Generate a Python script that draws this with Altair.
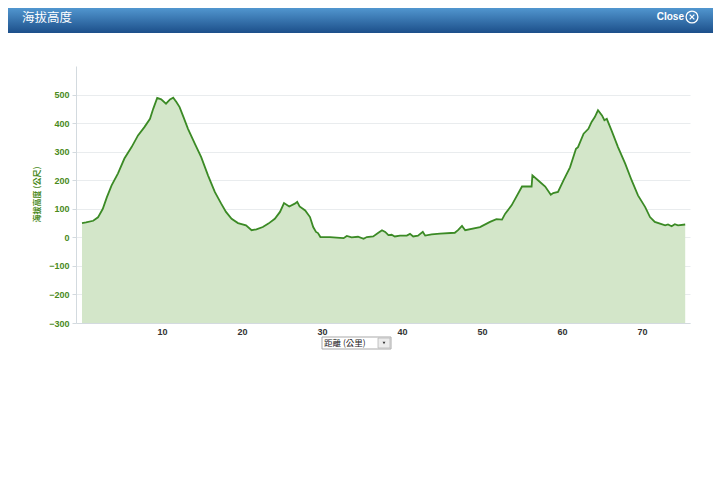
import altair as alt
import pandas as pd

km = [0, 0.5, 1.4, 2.0, 2.6, 3.1, 3.7, 4.5, 5.3, 6.2,
      7.0, 7.8, 8.5, 8.9, 9.4, 9.9, 10.5, 11.0, 11.4, 11.8,
      12.2, 12.7, 13.25, 14.1, 14.9, 15.75, 16.6, 17.4, 18.0, 18.7,
      19.5, 20.5, 21.2, 21.8, 22.6, 23.3, 24.1, 24.75, 25.25, 25.9,
      26.6, 26.9, 27.2, 27.9, 28.5, 28.9, 29.25, 29.5, 29.8, 31.0,
      32.25, 32.7, 33.1, 33.7, 34.5, 35.2, 35.6, 36.4, 37.0, 37.5,
      37.9, 38.3, 38.7, 39.1, 39.75, 40.6, 41.0, 41.4, 42.0, 42.6,
      42.9, 43.7, 44.75, 46.6, 47.0, 47.5, 47.9, 49.75, 51.0, 51.8,
      52.5, 52.9, 53.7, 55.0, 56.2, 56.3, 57.0, 57.9, 58.6, 58.9,
      59.5, 60.2, 61.0, 61.75, 62.0, 62.7, 63.3, 63.7, 64.1, 64.5,
      65.0, 65.3, 65.6, 66.2, 67.0, 67.9, 68.7, 69.5, 70.4, 71.0,
      71.6, 72.25, 72.9, 73.25, 73.7, 74.1, 74.5, 75.4]
elev = [50, 52, 58, 70, 100, 140, 182, 224, 276, 316,
        357, 386, 415, 450, 488, 483, 468, 483, 489, 474,
        456, 420, 380, 328, 281, 217, 159, 118, 89, 65,
        50, 42, 25, 28, 36, 48, 65, 89, 120, 108,
        118, 124, 108, 94, 71, 36, 19, 15, 1, 1,
        -2, -3, 5, 0, 2, -5, 1, 3, 15, 25,
        19, 8, 9, 3, 6, 6, 12, 3, 6, 19,
        6, 10, 13, 16, 25, 40, 25, 36, 54, 64,
        62, 83, 112, 178, 178, 217, 200, 178, 149, 155,
        159, 200, 245, 310, 316, 363, 380, 404, 421, 445,
        427, 410, 415, 374, 316, 258, 200, 147, 106, 71,
        54, 48, 42, 45, 39, 46, 42, 45]

x_ticks = [10, 20, 30, 40, 50, 60, 70]
y_ticks = [-300, -200, -100, 0, 100, 200, 300, 400, 500]

header_title = "海拔高度"
close_label = "Close"
y_title = "海拔高度 (公尺)"
x_selector = "距離 (公里)"

df = pd.DataFrame({"km": km, "elev": elev})
one = pd.DataFrame({"a": [0]})

GREEN = "#4a8a1c"
CJK = "Noto Sans CJK TC"

xs = alt.Scale(domain=[-0.75, 76], nice=False, zero=False)
ys = alt.Scale(domain=[-300, 600], nice=False, zero=False)

xax = alt.Axis(values=x_ticks, tickCount=30, grid=False, ticks=False, domainColor="#d3dadf",
               labelFont="Liberation Sans", labelFontWeight="bold", labelFontSize=9,
               labelColor="#333333", labelPadding=4, labelOverlap=False, title=None)
yax = alt.Axis(values=y_ticks, tickCount=30, grid=True, gridColor="#e9ecee",
               domainColor="#d3dadf", tickColor="#d3dadf", tickSize=4, labelPadding=3,
               labelOverlap=False,
               labelFont="Liberation Sans", labelFontWeight="bold", labelFontSize=9,
               labelColor=GREEN, title=y_title, titleFont=CJK, titleFontSize=8,
               titleFontWeight="bold", titleColor=GREEN, titleX=-39, titleY=128,
               titleAngle=-90, titleAlign="center", titleBaseline="middle")

area = alt.Chart(df).mark_area(color="#d3e6c9", opacity=1).encode(
    x=alt.X("km:Q", scale=xs, axis=xax),
    y=alt.Y("elev:Q", scale=ys, axis=yax),
    y2=alt.datum(-300),
)
line = alt.Chart(df).mark_line(color="#3b8a25", strokeWidth=1.8).encode(
    x=alt.X("km:Q", scale=xs),
    y=alt.Y("elev:Q", scale=ys),
)

grad = alt.Gradient(gradient="linear", x1=0, x2=0, y1=0, y2=1,
                    stops=[alt.GradientStop(color="#5196cf", offset=0),
                           alt.GradientStop(color="#1c4f8a", offset=1)])
header = alt.Chart(one).mark_rect(fill=grad).encode(
    x=alt.value(-68), x2=alt.value(700), y=alt.value(-58), y2=alt.value(-33))
title_txt = alt.Chart(one).mark_text(text=header_title, font=CJK, fontSize=12.5,
                                     color="white", align="left", baseline="middle").encode(
    x=alt.value(-54), y=alt.value(-48))
close_txt = alt.Chart(one).mark_text(text=close_label, font="Liberation Sans", fontSize=10,
                                     fontWeight="bold", color="white", align="right",
                                     baseline="middle").encode(
    x=alt.value(608), y=alt.value(-49))
close_circle = alt.Chart(one).mark_point(shape="circle", size=140, filled=False,
                                         color="white", strokeWidth=1.3, opacity=1).encode(
    x=alt.value(616), y=alt.value(-49))
close_x = alt.Chart(one).mark_point(shape="M-1,-1L1,1M1,-1L-1,1", size=22, filled=False,
                                    color="white", strokeWidth=1.3, opacity=1).encode(
    x=alt.value(616), y=alt.value(-49))

sel_box = alt.Chart(one).mark_rect(fill="white", stroke="#a9a9a9", strokeWidth=1).encode(
    x=alt.value(246), x2=alt.value(315), y=alt.value(271), y2=alt.value(283))
sel_btn = alt.Chart(one).mark_rect(fill="#ececec", stroke="#b8b8b8", strokeWidth=0.8).encode(
    x=alt.value(302), x2=alt.value(314), y=alt.value(272), y2=alt.value(282))
sel_arrow = alt.Chart(one).mark_point(shape="triangle-down", size=8, filled=True,
                                      color="#333333", opacity=1).encode(
    x=alt.value(308), y=alt.value(277))
sel_txt = alt.Chart(one).mark_text(text=x_selector, font=CJK, fontSize=8.5, color="#222222",
                                   align="left", baseline="middle").encode(
    x=alt.value(248), y=alt.value(277))

chart = alt.layer(area, line, header, title_txt, close_txt, close_circle, close_x,
                  sel_box, sel_btn, sel_arrow, sel_txt).properties(
    width=614, height=257,
    autosize=alt.AutoSizeParams(type="none"),
    padding={"left": 68, "top": 58, "right": 23, "bottom": 150},
    background="white",
).configure_view(strokeWidth=0)

chart.save("out.html", embed_options={"renderer": "svg", "actions": False})
